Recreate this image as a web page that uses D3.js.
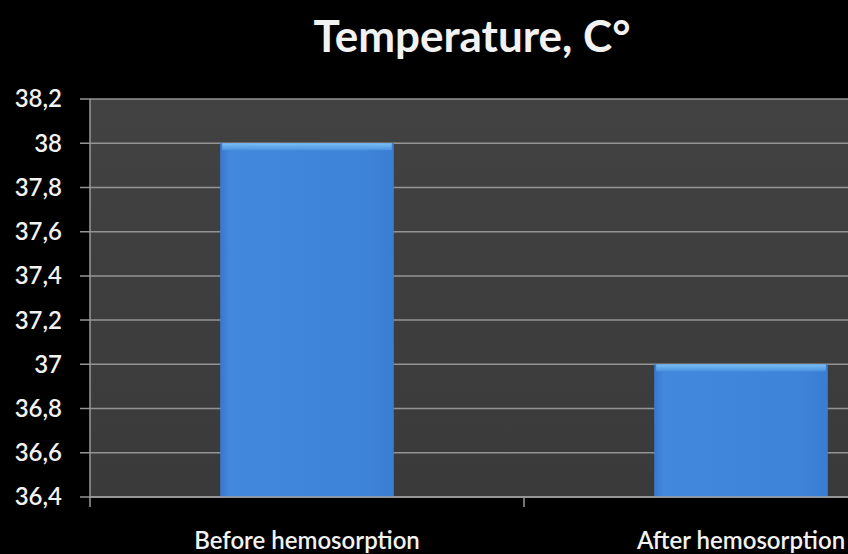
<!DOCTYPE html>
<meta charset="utf-8">
<style>
body { margin: 0; background: #000; }
text { font-family: Lato, "Open Sans", sans-serif; fill: #f2f2f2; }
</style>
<svg width="848" height="554"></svg>
<script src="https://d3js.org/d3.v7.min.js"></script>
<script>

var categories = ["Before hemosorption", "After hemosorption"];
var temperatures = [38, 37];
var yTicks = [36.4, 36.6, 36.8, 37, 37.2, 37.4, 37.6, 37.8, 38, 38.2];

var svg = d3.select("svg"),
    width = +svg.attr("width"),
    height = +svg.attr("height");

svg.append("rect").attr("width", width).attr("height", height).attr("fill", "#000");

var plotLeft = 90, plotRight = 958, plotTop = 99, plotBottom = 497;

var x = d3.scaleBand()
    .domain(categories)
    .range([plotLeft, plotRight])
    .paddingInner(0.6)
    .paddingOuter(0.3);

var y = d3.scaleLinear()
    .domain([36.4, 38.2])
    .range([plotBottom, plotTop]);

var defs = svg.append("defs");

var bg = defs.append("linearGradient").attr("id", "bg")
    .attr("x1", 0).attr("x2", 0).attr("y1", 0).attr("y2", 1);
bg.append("stop").attr("offset", "0%").attr("stop-color", "#424242");
bg.append("stop").attr("offset", "100%").attr("stop-color", "#3a3a3a");

var barGrad = defs.append("linearGradient").attr("id", "bar")
    .attr("x1", 0).attr("x2", 1).attr("y1", 0).attr("y2", 0);
barGrad.append("stop").attr("offset", "0%").attr("stop-color", "#3a78cc");
barGrad.append("stop").attr("offset", "6%").attr("stop-color", "#4289dd");
barGrad.append("stop").attr("offset", "85%").attr("stop-color", "#3d83d8");
barGrad.append("stop").attr("offset", "100%").attr("stop-color", "#3a7dd2");

var topGrad = defs.append("linearGradient").attr("id", "bartop")
    .attr("x1", 0).attr("x2", 0).attr("y1", 0).attr("y2", 1);
topGrad.append("stop").attr("offset", "0%").attr("stop-color", "#7cc0f5");
topGrad.append("stop").attr("offset", "100%").attr("stop-color", "#4a92e0");

// plot area
svg.append("rect")
    .attr("x", plotLeft).attr("y", plotTop)
    .attr("width", plotRight - plotLeft).attr("height", plotBottom - plotTop)
    .attr("fill", "url(#bg)");

// gridlines
svg.append("g")
  .selectAll("line")
  .data(yTicks)
  .join("line")
    .attr("x1", plotLeft - 10).attr("x2", plotRight)
    .attr("y1", function(d) { return y(d); })
    .attr("y2", function(d) { return y(d); })
    .attr("stroke", "#949494")
    .attr("stroke-width", 1.5);

// bars
var bars = svg.append("g")
  .selectAll("g")
  .data(categories)
  .join("g");

bars.append("rect")
    .attr("x", function(d) { return x(d); })
    .attr("y", function(d, i) { return y(temperatures[i]); })
    .attr("width", x.bandwidth())
    .attr("height", function(d, i) { return plotBottom - y(temperatures[i]); })
    .attr("fill", "url(#bar)");

bars.append("rect")
    .attr("x", function(d) { return x(d) + 2; })
    .attr("y", function(d, i) { return y(temperatures[i]); })
    .attr("width", x.bandwidth() - 4)
    .attr("height", 7)
    .attr("fill", "url(#bartop)");

// axes
svg.append("line")
    .attr("x1", plotLeft).attr("x2", plotLeft)
    .attr("y1", plotTop).attr("y2", plotBottom + 10)
    .attr("stroke", "#9a9a9a").attr("stroke-width", 1.5);

svg.append("line")
    .attr("x1", plotLeft).attr("x2", plotRight)
    .attr("y1", plotBottom).attr("y2", plotBottom)
    .attr("stroke", "#a0a0a0").attr("stroke-width", 1.5);

var midX = x(categories[1]) - x.step() * x.paddingInner() / 2;
svg.append("line")
    .attr("x1", midX).attr("x2", midX)
    .attr("y1", plotBottom).attr("y2", plotBottom + 10)
    .attr("stroke", "#9a9a9a").attr("stroke-width", 1.5);

var fmt = function(d) { return d3.format("~g")(d).replace(".", ","); };

svg.append("g")
  .selectAll("text")
  .data(yTicks)
  .join("text")
    .attr("x", 62)
    .attr("y", function(d) { return y(d); })
    .attr("dy", "0.35em")
    .attr("text-anchor", "end")
    .attr("font-size", 24)
    .attr("font-weight", 600)
    .text(fmt);

svg.append("g")
  .selectAll("text")
  .data(categories)
  .join("text")
    .attr("x", function(d) { return x(d) + x.bandwidth() / 2; })
    .attr("y", 549)
    .attr("text-anchor", "middle")
    .attr("font-size", 24)
    .attr("font-weight", 600)
    .text(function(d) { return d; });

svg.append("text")
    .attr("x", 472)
    .attr("y", 52)
    .attr("text-anchor", "middle")
    .attr("font-size", 44)
    .attr("font-weight", 700)
    .text("Temperature, C°");

</script>
